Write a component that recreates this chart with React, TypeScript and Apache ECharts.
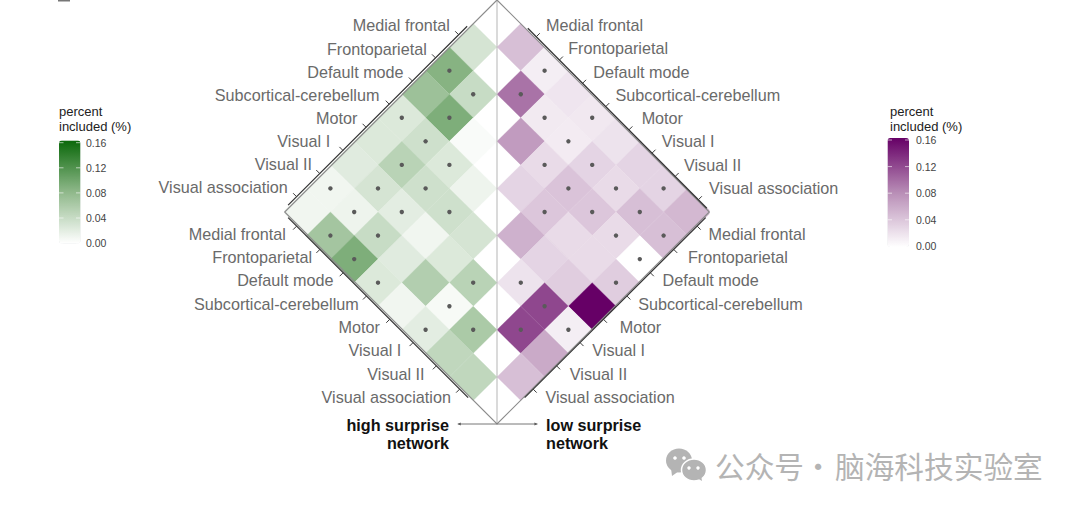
import React, { useEffect, useRef } from "react";
import * as echarts from "echarts";

const networks = [
  "Medial frontal",
  "Frontoparietal",
  "Default mode",
  "Subcortical-cerebellum",
  "Motor",
  "Visual I",
  "Visual II",
  "Visual association",
];

const highSurprise = [
  [0.03],
  [0.085, 0.04],
  [0.07, 0.09, 0.004],
  [0.025, 0.035, 0.025, 0.012],
  [0.025, 0.05, 0.035, 0.035, 0.03],
  [0.022, 0.03, 0.02, 0.01, 0.025, 0.05],
  [0.01, 0.012, 0.04, 0.022, 0.055, 0.006, 0.06],
  [0.01, 0.065, 0.09, 0.025, 0.01, 0.02, 0.045, 0.045],
];

const lowSurprise = [
  [0.045],
  [0.012, 0.095],
  [0.018, 0.015, 0.07],
  [0.016, 0.014, 0.025, 0.03],
  [0.02, 0.03, 0.042, 0.04, 0.055],
  [0.03, 0.025, 0.04, 0.025, 0.03, 0.02],
  [0.03, 0.045, 0.025, 0.025, 0.035, 0.12, 0.12],
  [0.05, 0.045, 0, 0.035, 0.16, 0.012, 0.06, 0.045],
];

const significant = [
  [0],
  [1, 1],
  [0, 1, 0],
  [1, 1, 1, 0],
  [0, 1, 1, 1, 0],
  [0, 1, 1, 0, 0, 1],
  [1, 1, 1, 0, 0, 1, 1],
  [0, 1, 1, 1, 0, 1, 0, 0],
];

const legendTicks = [0.16, 0.12, 0.08, 0.04, 0.0];

const EDGE = 8.92;
const LABEL_FONT = '16.2px "Liberation Sans", Arial, sans-serif';
const BOLD_FONT = 'bold 16.2px "Liberation Sans", Arial, sans-serif';
const LEGEND_FONT = '10.5px "Liberation Sans", Arial, sans-serif';
const TITLE_FONT = '13px "Liberation Sans", Arial, sans-serif';
const MARK_FONT = '29.7px "Noto Sans CJK SC", sans-serif';

const buildCells = (matrix: number[][], side: number) =>
  matrix.flatMap((row, i) =>
    row.map((v, j) => [side * (i - j + 1), i + j, v, significant[i][j]])
  );

const renderCell = (_: any, api: any) => {
  const u = api.value(0);
  const k = api.value(1);
  const s = Math.sign(u);
  const over = Math.abs(u) + 1 - EDGE;
  const tip =
    over > 0
      ? [
          [s * EDGE, k - over],
          [s * EDGE, k + over],
        ]
      : [[u + s, k]];
  const points = [[u - s, k], [u, k - 1], ...tip, [u, k + 1]].map((p) => api.coord(p));
  const color = api.visual("color");
  const [cx, cy] = api.coord([u, k]);
  const children: any[] = [
    { type: "polygon", shape: { points }, style: { fill: color, stroke: color, lineWidth: 0.3 } },
  ];
  if (api.value(3)) {
    children.push({ type: "circle", shape: { cx, cy, r: 2.2 }, style: { fill: "#5a5a5a" } });
  }
  return { type: "group", children };
};

// Each axis runs along one outer side of the diamond; ticks are spaced a little
// tighter than the cells, as in the source figure.
const edges = [
  { side: -1, ov: -1, from: [-1.61, -0.525], to: [-8.42, 6.35], dx: -7, dy: -7.5, nudge: [0, 0, 0, -1, 0, -4, 1, 0] },
  { side: -1, ov: 1, from: [-8.42, 7.6], to: [-1.57, 14.52], dx: -8, dy: 6, nudge: [-1, 2, 0, 2, 0, -2, -2, 1] },
  { side: 1, ov: -1, from: [1.65, -0.44], to: [8.46, 6.48], dx: 9, dy: -10, nudge: [-1, -2, 0, -1, 2, -1, -2, 0] },
  { side: 1, ov: 1, from: [8.41, 7.6], to: [1.52, 14.52], dx: 9.5, dy: 6, nudge: [0, 3, 1, 0, 5, 1, 2, 1] },
];

const renderEdge = (_: any, api: any) => {
  const e = edges[api.value(0)];
  const a = api.coord(e.from);
  const b = api.coord(e.to);
  const len = Math.hypot(b[0] - a[0], b[1] - a[1]);
  const ax = (b[0] - a[0]) / len;
  const ay = (b[1] - a[1]) / len;
  const ext = 12;
  const children: any[] = [
    {
      type: "line",
      shape: { x1: a[0] - ax * ext, y1: a[1] - ay * ext, x2: b[0] + ax * ext, y2: b[1] + ay * ext },
      style: { stroke: "#333333", lineWidth: 1.2 },
    },
  ];
  networks.forEach((name, i) => {
    const x = a[0] + ((b[0] - a[0]) * i) / 7;
    const y = a[1] + ((b[1] - a[1]) * i) / 7;
    children.push({
      type: "line",
      shape: { x1: x, y1: y, x2: x + e.side * 3.5, y2: y + e.ov * 3.5 },
      style: { stroke: "#3a3a3a", lineWidth: 1 },
    });
    children.push({
      type: "text",
      x: x + e.side * 1.75 + e.dx + e.nudge[i],
      y: y + e.ov * 1.75 + e.dy,
      style: {
        text: name,
        font: LABEL_FONT,
        fill: "#6a6a6a",
        align: e.side < 0 ? "right" : "left",
        verticalAlign: "middle",
      },
    });
  });
  return { type: "group", children };
};

const renderFrame = (_: any, api: any) => {
  const p = (u: number, k: number) => api.coord([u, k]);
  const top = p(0, -2);
  const bottom = p(0, 16);
  const left = p(-EDGE, 7);
  const right = p(EDGE, 7);
  const aL = p(-1.65, 16);
  const aR = p(1.7, 16);
  return {
    type: "group",
    children: [
      { type: "line", shape: { x1: top[0], y1: top[1], x2: bottom[0], y2: bottom[1] }, style: { stroke: "#b5b5b5", lineWidth: 1 } },
      { type: "polyline", shape: { points: [top, left, bottom, right, top] }, style: { stroke: "#8c8c8c", lineWidth: 1.2, fill: "none" } },
      { type: "line", shape: { x1: aL[0], y1: aL[1], x2: aR[0], y2: aR[1] }, style: { stroke: "#777", lineWidth: 1 } },
      { type: "polygon", shape: { points: [aL, [aL[0] + 3, aL[1] - 1.5], [aL[0] + 3, aL[1] + 1.5]] }, style: { fill: "#555" } },
      { type: "polygon", shape: { points: [aR, [aR[0] - 3, aR[1] - 1.5], [aR[0] - 3, aR[1] + 1.5]] }, style: { fill: "#555" } },
    ],
  };
};

const txt = (text: string, x: number, y: number, font: string, fill: string, align = "left") => ({
  type: "text",
  x,
  y,
  z: 50,
  silent: true,
  style: { text, font, fill, align, verticalAlign: "middle" },
});

const legendGraphics = (x: number, barW: number, y0: number, step: number, titleX: number, labelX: number) => [
  txt("percent", titleX, 111, TITLE_FONT, "#222"),
  txt("included (%)", titleX, 126, TITLE_FONT, "#222"),
  ...legendTicks.flatMap((t, i) => {
    const y = y0 + step * i;
    return [
      txt(t.toFixed(2), labelX, y, LEGEND_FONT, "#444"),
      {
        type: "line",
        z: 50,
        silent: true,
        shape: { x1: x, y1: y, x2: x + 4.5, y2: y },
        style: { stroke: "rgba(255,255,255,0.6)", lineWidth: 1 },
      },
      {
        type: "line",
        z: 50,
        silent: true,
        shape: { x1: x + barW - 4.5, y1: y, x2: x + barW, y2: y },
        style: { stroke: "rgba(255,255,255,0.6)", lineWidth: 1 },
      },
    ];
  }),
];

const wechatIcon = () => {
  const g = "#b4b4b4";
  const base = { z: 50, silent: true };
  return [
    { ...base, type: "ellipse", shape: { cx: 679, cy: 460.5, rx: 13, ry: 12 }, style: { fill: g } },
    { ...base, type: "polygon", shape: { points: [[671, 468], [672, 476], [679, 471]] }, style: { fill: g } },
    { ...base, type: "circle", shape: { cx: 675, cy: 458, r: 1.8 }, style: { fill: "#fff" } },
    { ...base, type: "circle", shape: { cx: 684, cy: 458, r: 1.8 }, style: { fill: "#fff" } },
    { ...base, type: "ellipse", shape: { cx: 694, cy: 470, rx: 12.5, ry: 11 }, style: { fill: g, stroke: "#fff", lineWidth: 1.5 } },
    { ...base, type: "polygon", shape: { points: [[697, 478], [702, 481], [701, 475]] }, style: { fill: g } },
    { ...base, type: "circle", shape: { cx: 689, cy: 468, r: 1.7 }, style: { fill: "#fff" } },
    { ...base, type: "circle", shape: { cx: 698, cy: 468, r: 1.7 }, style: { fill: "#fff" } },
  ];
};

export default function App() {
  const ref = useRef<HTMLDivElement>(null);
  useEffect(() => {
    document.body.style.margin = "0";
    const chart = echarts.init(ref.current!, undefined, { renderer: "svg" });
    const barCommon = {
      type: "continuous",
      min: 0,
      max: 0.16,
      dimension: 2,
      padding: 0,
      calculable: false,
      hoverLink: false,
      itemWidth: 21.5,
      text: ["", ""],
      textGap: 0,
    };
    chart.setOption({
      animation: false,
      backgroundColor: "#ffffff",
      grid: { left: 282.8, width: 428.4, top: 0, height: 424 },
      xAxis: { type: "value", min: -9, max: 9, show: false },
      yAxis: { type: "value", min: -2, max: 16, inverse: true, show: false },
      visualMap: [
        { ...barCommon, seriesIndex: 0, left: 59, top: 140.5, itemHeight: 103, inRange: { color: ["#ffffff", "#8fb88a", "#0a680a"] } },
        { ...barCommon, seriesIndex: 1, left: 887.5, top: 138, itemHeight: 109, inRange: { color: ["#ffffff", "#b88db6", "#660066"] } },
      ],
      series: [
        { type: "custom", coordinateSystem: "cartesian2d", clip: false, silent: true, encode: { x: 0, y: 1 }, data: buildCells(highSurprise, -1), renderItem: renderCell, z: 3 },
        { type: "custom", coordinateSystem: "cartesian2d", clip: false, silent: true, encode: { x: 0, y: 1 }, data: buildCells(lowSurprise, 1), renderItem: renderCell, z: 3 },
        { type: "custom", coordinateSystem: "cartesian2d", clip: false, silent: true, data: [[0, 0]], encode: { x: 0, y: 1 }, renderItem: renderFrame, z: 5 },
        { type: "custom", coordinateSystem: "cartesian2d", clip: false, silent: true, data: edges.map((_e, i) => [i]), encode: { x: 0 }, renderItem: renderEdge, z: 6 },
      ],
      graphic: [
        { type: "rect", z: 50, silent: true, shape: { x: 58, y: 0, width: 12, height: 1.5 }, style: { fill: "#777" } },
        ...legendGraphics(59, 21.5, 142.7, 25.1, 59, 86),
        ...legendGraphics(887.5, 22, 140, 26.6, 890, 916),
        txt("high surprise", 449, 425, BOLD_FONT, "#111", "right"),
        txt("network", 449, 443, BOLD_FONT, "#111", "right"),
        txt("low surprise", 546, 425, BOLD_FONT, "#111"),
        txt("network", 546, 443, BOLD_FONT, "#111"),
        ...wechatIcon(),
        txt("公众号", 715, 465, MARK_FONT, "#b4b4b4"),
        txt("·", 818, 465, MARK_FONT, "#b4b4b4", "center"),
        txt("脑海科技实验室", 835, 465, MARK_FONT, "#b4b4b4"),
      ],
    });
    return () => chart.dispose();
  }, []);
  return <div ref={ref} style={{ position: "absolute", left: 0, top: 0, width: 1080, height: 509 }} />;
}
